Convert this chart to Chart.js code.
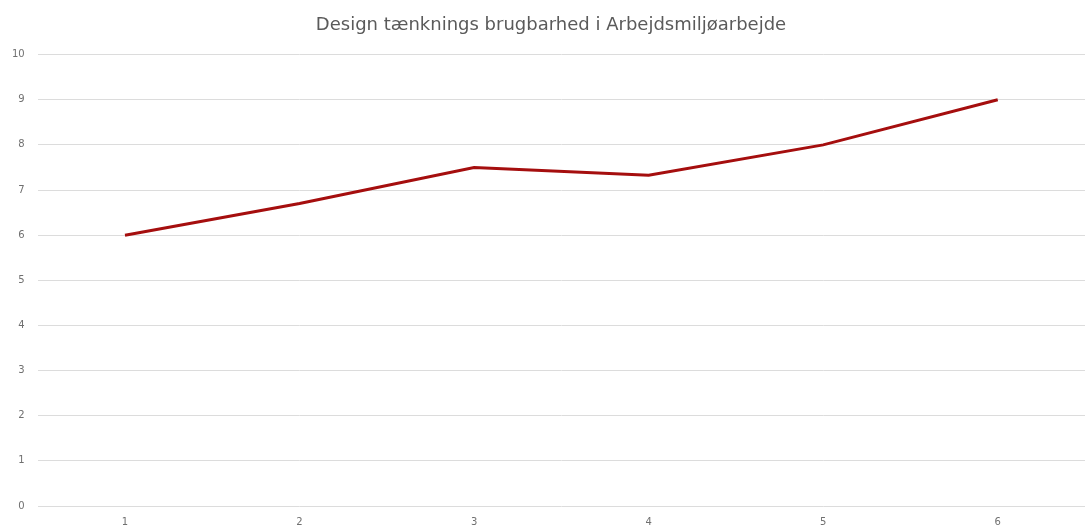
<!DOCTYPE html>
<html>
<head>
<meta charset="utf-8">
<script src="https://cdn.jsdelivr.net/npm/chart.js@4"></script>
<style>
  html, body { margin: 0; padding: 0; background: #fff; }
  #wrap { width: 1085px; height: 528px; }
</style>
</head>
<body>
<div id="wrap"><canvas id="lineChart"></canvas></div>
<script>
var titleText = "Design tænknings brugbarhed i Arbejdsmiljøarbejde";
var labels = ["1", "2", "3", "4", "5", "6"];
var values = [6, 6.7, 7.5, 7.33, 8, 9];

var data = {
    labels: labels,
    datasets: [{
        label: "Brugbarhed",
        data: values,
        borderColor: "#a50e0e",
        backgroundColor: "#a50e0e",
        borderWidth: 3,
        pointRadius: 0,
        tension: 0,
        fill: false
    }]
};

// title sits a little right of the canvas centre in the original
var shiftTitle = {
    id: 'shiftTitle',
    afterLayout: function(chart) {
        if (chart.titleBlock) {
            chart.titleBlock.left += 18;
        }
    }
};

var ctx = document.getElementById("lineChart");
new Chart(ctx, {
    type: 'line',
    data: data,
    plugins: [shiftTitle],
    options: {
        responsive: true,
        maintainAspectRatio: false,
        animation: false,
        layout: { padding: { left: -1, right: 0, top: 0, bottom: -10 } },
        plugins: {
            legend: { display: false },
            tooltip: { enabled: false },
            title: {
                display: true,
                text: titleText,
                color: "#5a5a5a",
                font: { family: "'DejaVu Sans', sans-serif", size: 18, weight: 'normal' },
                padding: { top: 15, bottom: 18 }
            }
        },
        scales: {
            x: {
                offset: true,
                grid: { display: false, drawTicks: false },
                border: { display: false },
                ticks: {
                    color: "#707070",
                    padding: 10,
                    font: { family: "'DejaVu Sans', sans-serif", size: 10 }
                }
            },
            y: {
                min: 0,
                max: 10,
                grid: { color: "#dcdcdc", lineWidth: 1, drawTicks: false },
                border: { display: false },
                ticks: {
                    stepSize: 1,
                    color: "#707070",
                    padding: 13,
                    font: { family: "'DejaVu Sans', sans-serif", size: 10 }
                }
            }
        }
    }
});
</script>
</body>
</html>
